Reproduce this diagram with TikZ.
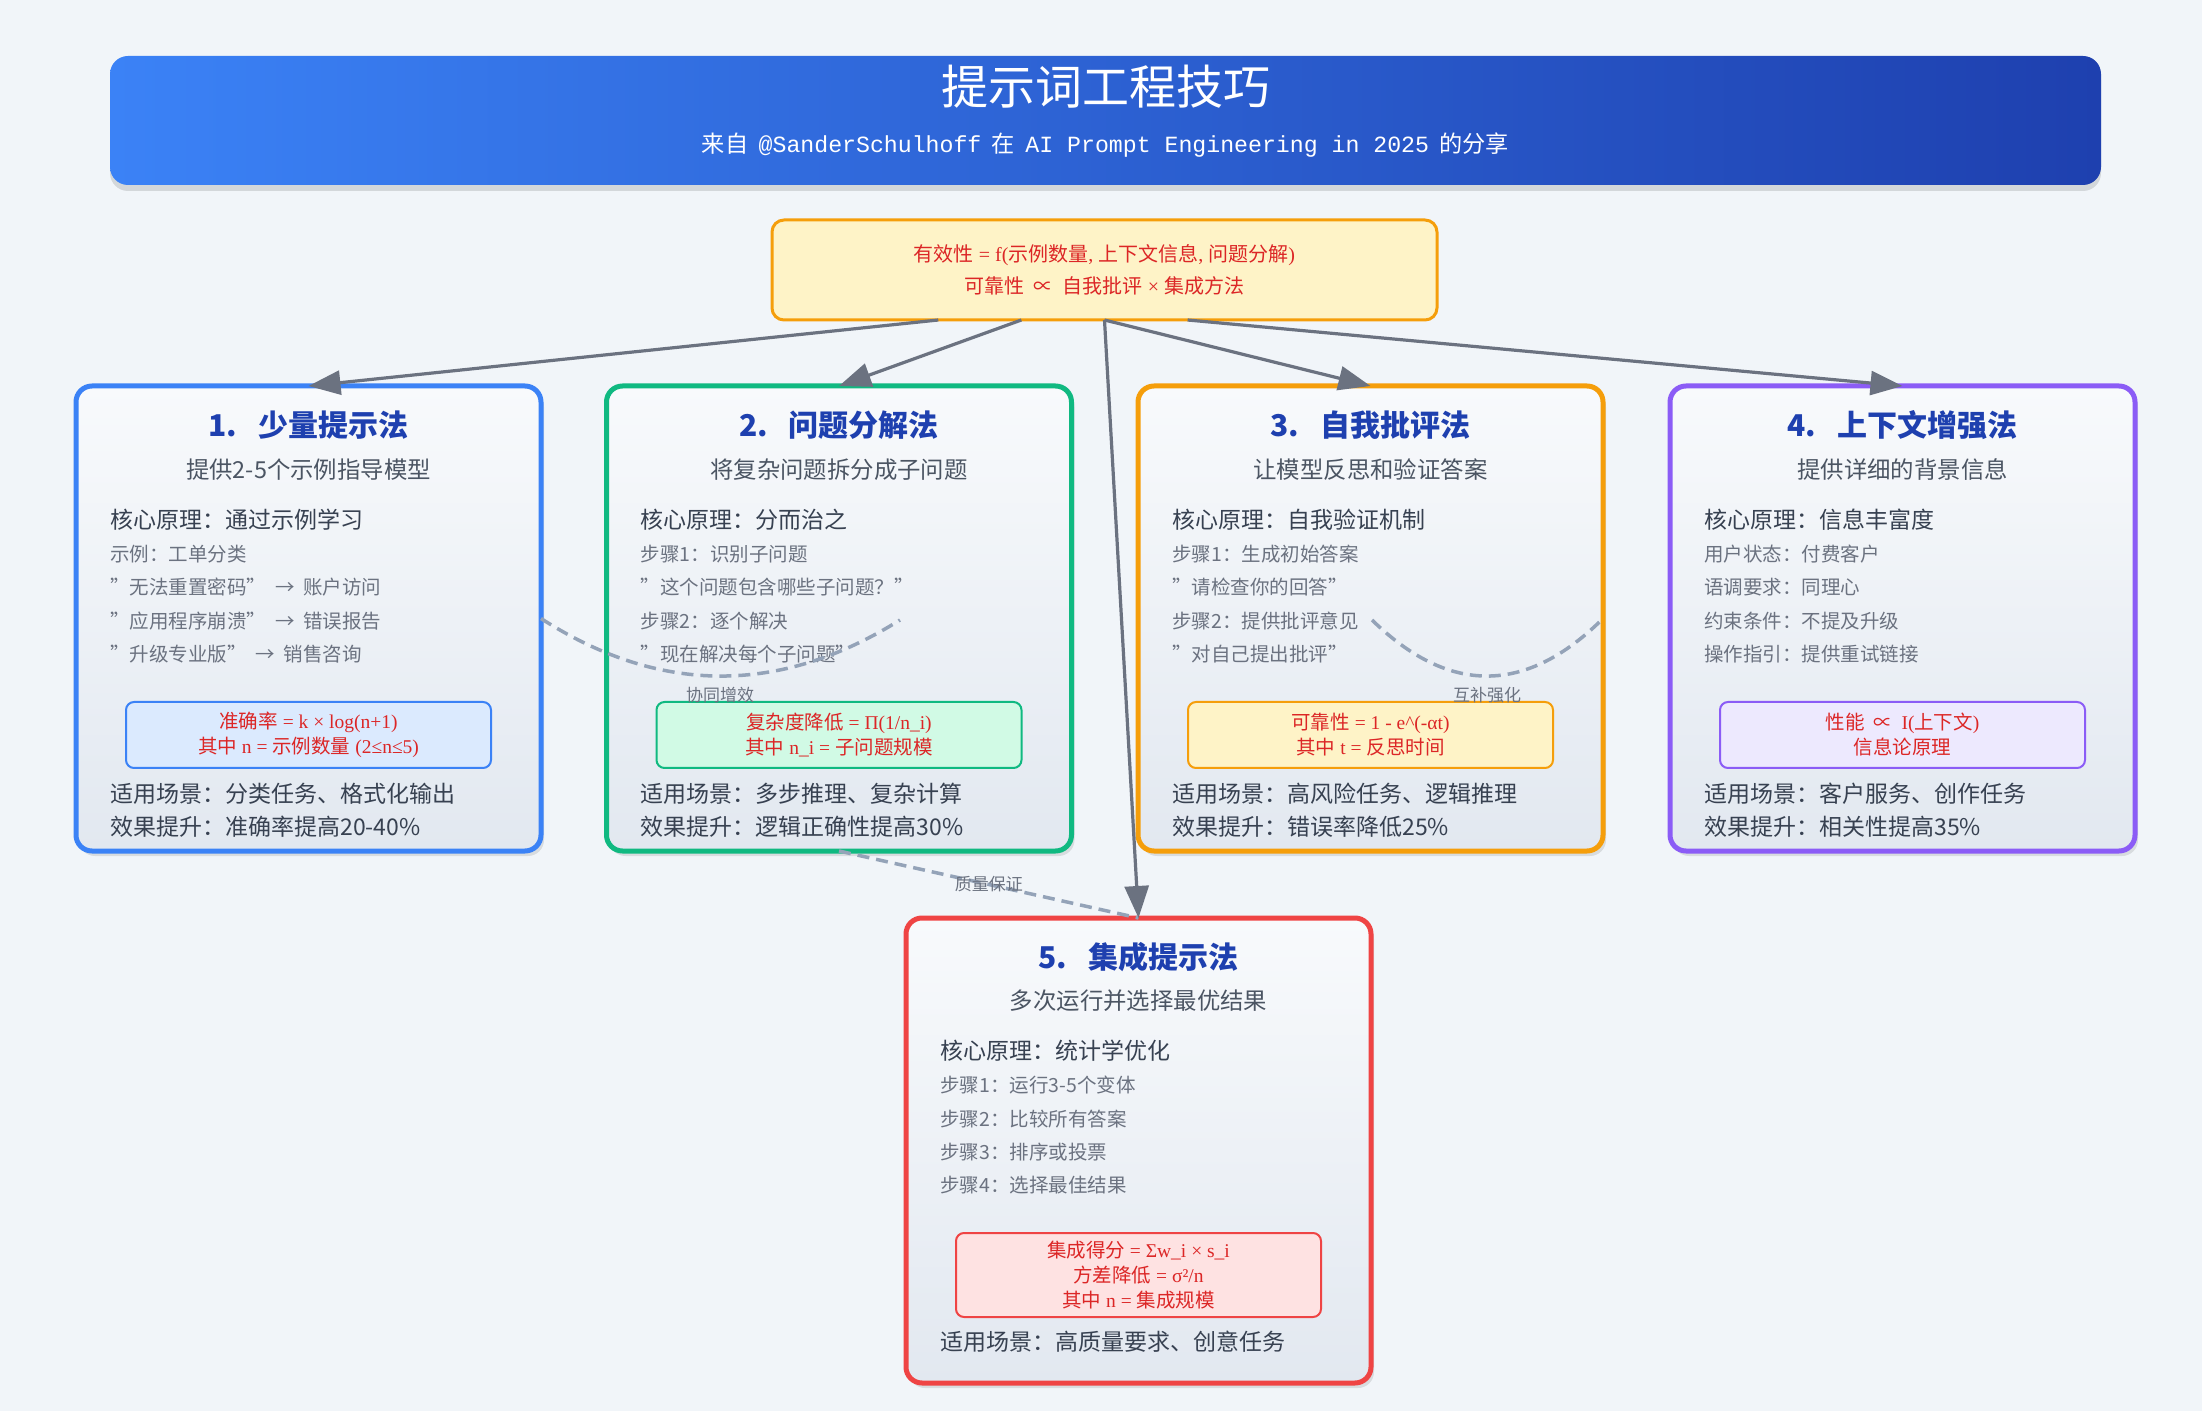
\documentclass[tikz,border=0pt]{standalone}
\usepackage{fontspec}
\setmainfont[WordSpace=2]{Noto Sans CJK SC}
\newfontfamily\fm{Liberation Serif}
\newfontfamily\mono{Liberation Mono}
\newcommand\lat[1]{{\fm #1}}
\usetikzlibrary{arrows.meta,positioning,calc,shadows}
\definecolor{pagebg}{HTML}{F1F5F9}
\definecolor{hdrleft}{HTML}{3B82F6}
\definecolor{hdrright}{HTML}{1E40AF}
\definecolor{cardtop}{HTML}{F8FAFC}
\definecolor{cardbot}{HTML}{E2E8F0}
\definecolor{c1line}{HTML}{3B82F6}
\definecolor{c1fill}{HTML}{DBEAFE}
\definecolor{c2line}{HTML}{10B981}
\definecolor{c2fill}{HTML}{D1FAE5}
\definecolor{c3line}{HTML}{F59E0B}
\definecolor{c3fill}{HTML}{FEF3C7}
\definecolor{c4line}{HTML}{8B5CF6}
\definecolor{c4fill}{HTML}{EDE9FE}
\definecolor{c5line}{HTML}{EF4444}
\definecolor{c5fill}{HTML}{FEE2E2}
\definecolor{titleblue}{HTML}{1E40AF}
\definecolor{subgray}{HTML}{4B5563}
\definecolor{coregray}{HTML}{374151}
\definecolor{itemgray}{HTML}{6B7280}
\definecolor{formred}{HTML}{DC2626}
\definecolor{arrowgray}{HTML}{6B7280}
\definecolor{linkgray}{HTML}{94A3B8}

\begin{document}
\begin{tikzpicture}[
  x=0.5pt, y=-0.5pt,
  header/.style={rectangle, rounded corners=9pt, minimum width=995.5pt,
                 minimum height=64.5pt, left color=hdrleft, right color=hdrright,
                 drop shadow={shadow xshift=0pt, shadow yshift=-3pt, opacity=0.12, fill=black}},
  htitle/.style={text=white, font=\fontsize{23.5}{28}\selectfont},
  hsub/.style={text=white, font=\fontsize{11.6}{14}\selectfont},
  eqbox/.style={rectangle, draw=c3line, line width=1.5pt, rounded corners=6pt,
                fill=c3fill, minimum width=332.5pt, minimum height=50pt, outer sep=0pt,
                align=center, text=formred, font=\fontsize{10}{16}\selectfont},
  card/.style={rectangle, draw=#1, line width=2.5pt, rounded corners=8pt,
               minimum width=232.5pt, minimum height=232.5pt, outer sep=0pt,
               top color=cardtop, bottom color=cardbot,
               drop shadow={shadow xshift=1.5pt, shadow yshift=-2.5pt, opacity=0.1, fill=black}},
  ttl/.style={text=titleblue, font=\fontsize{15}{18}\selectfont\bfseries},
  sub/.style={text=subgray, font=\fontsize{11.7}{14}\selectfont},
  core/.style={anchor=west, inner sep=0pt, text=coregray, font=\fontsize{11.5}{14}\selectfont},
  item/.style={anchor=west, inner sep=0pt, text=itemgray, font=\fontsize{9.75}{12}\selectfont},
  gain/.style={anchor=west, inner sep=0pt, text=coregray, font=\fontsize{11.5}{14}\selectfont},
  fbox/.style 2 args={rectangle, draw=#1, fill=#2, line width=1pt, rounded corners=4pt,
                      minimum width=182.5pt, minimum height=33pt, align=center,
                      text=formred, font=\fontsize{9.75}{12.5}\selectfont},
  flow/.style={-{Triangle[length=16pt, width=12pt]}, line width=1.6pt, draw=arrowgray},
  link/.style={draw=linkgray, line width=1.75pt, dash pattern=on 6pt off 3.5pt},
  lbl/.style={text=itemgray, font=\fontsize{8.5}{10}\selectfont, inner sep=1pt},
]
\useasboundingbox (0,0) rectangle (2202,1411);
\fill[pagebg] (0,0) rectangle (2202,1411);

% Header
\node[header] (hdr) at (1105.5,120.5) {};
\node[htitle] (htl) at (1105.5,87) {提示词工程技巧};
\node[hsub] (hsb) at (1105.5,145) {来自 {\mono @SanderSchulhoff} 在 {\mono AI Prompt Engineering in 2025} 的分享};

% Overall formula
\node[eqbox] (eq) at (1104.5,270) {有效性\lat{ = f(}示例数量\lat{, }上下文信息\lat{, }问题分解\lat{)}\\
  可靠性 ∝ 自我批评\lat{ × }集成方法};

% Cards
\node[card=c1line] (b1) at (308.5,618.5) {};
\node[card=c2line] (b2) at (839,618.5) {};
\node[card=c3line] (b3) at (1370.5,618.5) {};
\node[card=c4line] (b4) at (1902.5,618.5) {};
\node[card=c5line] (b5) at (1138.5,1150.5) {};

% Card 1: few-shot
\node[ttl] (t1) at ($(b1.north)+(0,39)$) {1.\hspace{.7em}少量提示法};
\node[sub] (s1) at ($(b1.north)+(0,84)$) {提供2-5个示例指导模型};
\node[core] (k1) at ($(b1.north west)+(34,134)$) {核心原理：通过示例学习};
\node[item] (i1a) at ($(b1.north west)+(34,168)$) {示例：工单分类};
\node[item] (i1b) at ($(b1.north west)+(34,201.5)$) {"无法重置密码" → 账户访问};
\node[item] (i1c) at ($(b1.north west)+(34,235)$) {"应用程序崩溃" → 错误报告};
\node[item] (i1d) at ($(b1.north west)+(34,268.5)$) {"升级专业版" → 销售咨询};
\node[fbox={c1line}{c1fill}] (f1) at ($(b1.north)+(0,349)$) {准确率\lat{ = k × log(n+1)}\\其中\lat{ n = }示例数量\lat{ (2≤n≤5)}};
\node[gain] (g1a) at ($(b1.north west)+(34,408)$) {适用场景：分类任务、格式化输出};
\node[gain] (g1b) at ($(b1.north west)+(34,441)$) {效果提升：准确率提高20-40\%};

% Card 2: decomposition
\node[ttl] (t2) at ($(b2.north)+(0,39)$) {2.\hspace{.7em}问题分解法};
\node[sub] (s2) at ($(b2.north)+(0,84)$) {将复杂问题拆分成子问题};
\node[core] (k2) at ($(b2.north west)+(34,134)$) {核心原理：分而治之};
\node[item] (i2a) at ($(b2.north west)+(34,168)$) {步骤1：识别子问题};
\node[item] (i2b) at ($(b2.north west)+(34,201.5)$) {"这个问题包含哪些子问题？"};
\node[item] (i2c) at ($(b2.north west)+(34,235)$) {步骤2：逐个解决};
\node[item] (i2d) at ($(b2.north west)+(34,268.5)$) {"现在解决每个子问题"};
\node[fbox={c2line}{c2fill}] (f2) at ($(b2.north)+(0,349)$) {复杂度降低\lat{ = Π(1/n\_i)}\\其中\lat{ n\_i = }子问题规模};
\node[gain] (g2a) at ($(b2.north west)+(34,408)$) {适用场景：多步推理、复杂计算};
\node[gain] (g2b) at ($(b2.north west)+(34,441)$) {效果提升：逻辑正确性提高30\%};

% Card 3: self-criticism
\node[ttl] (t3) at ($(b3.north)+(0,39)$) {3.\hspace{.7em}自我批评法};
\node[sub] (s3) at ($(b3.north)+(0,84)$) {让模型反思和验证答案};
\node[core] (k3) at ($(b3.north west)+(34,134)$) {核心原理：自我验证机制};
\node[item] (i3a) at ($(b3.north west)+(34,168)$) {步骤1：生成初始答案};
\node[item] (i3b) at ($(b3.north west)+(34,201.5)$) {"请检查你的回答"};
\node[item] (i3c) at ($(b3.north west)+(34,235)$) {步骤2：提供批评意见};
\node[item] (i3d) at ($(b3.north west)+(34,268.5)$) {"对自己提出批评"};
\node[fbox={c3line}{c3fill}] (f3) at ($(b3.north)+(0,349)$) {可靠性\lat{ = 1 - e\textasciicircum(-αt)}\\其中\lat{ t = }反思时间};
\node[gain] (g3a) at ($(b3.north west)+(34,408)$) {适用场景：高风险任务、逻辑推理};
\node[gain] (g3b) at ($(b3.north west)+(34,441)$) {效果提升：错误率降低25\%};

% Card 4: context
\node[ttl] (t4) at ($(b4.north)+(0,39)$) {4.\hspace{.7em}上下文增强法};
\node[sub] (s4) at ($(b4.north)+(0,84)$) {提供详细的背景信息};
\node[core] (k4) at ($(b4.north west)+(34,134)$) {核心原理：信息丰富度};
\node[item] (i4a) at ($(b4.north west)+(34,168)$) {用户状态：付费客户};
\node[item] (i4b) at ($(b4.north west)+(34,201.5)$) {语调要求：同理心};
\node[item] (i4c) at ($(b4.north west)+(34,235)$) {约束条件：不提及升级};
\node[item] (i4d) at ($(b4.north west)+(34,268.5)$) {操作指引：提供重试链接};
\node[fbox={c4line}{c4fill}] (f4) at ($(b4.north)+(0,349)$) {性能 ∝ \lat{I(}上下文\lat{)}\\信息论原理};
\node[gain] (g4a) at ($(b4.north west)+(34,408)$) {适用场景：客户服务、创作任务};
\node[gain] (g4b) at ($(b4.north west)+(34,441)$) {效果提升：相关性提高35\%};

% Card 5: ensembling
\node[ttl] (t5) at ($(b5.north)+(0,39)$) {5.\hspace{.7em}集成提示法};
\node[sub] (s5) at ($(b5.north)+(0,83)$) {多次运行并选择最优结果};
\node[core] (k5) at ($(b5.north west)+(34,133)$) {核心原理：统计学优化};
\node[item] (i5a) at ($(b5.north west)+(34,167)$) {步骤1：运行3-5个变体};
\node[item] (i5b) at ($(b5.north west)+(34,201)$) {步骤2：比较所有答案};
\node[item] (i5c) at ($(b5.north west)+(34,234)$) {步骤3：排序或投票};
\node[item] (i5d) at ($(b5.north west)+(34,267)$) {步骤4：选择最佳结果};
\node[fbox={c5line}{c5fill}, minimum height=42pt] (f5) at ($(b5.north)+(0,357)$) {集成得分\lat{ = Σw\_i × s\_i}\\方差降低\lat{ = σ²/n}\\其中\lat{ n = }集成规模};
\node[gain] (g5a) at ($(b5.north west)+(34,424)$) {适用场景：高质量要求、创意任务};

% Synergy links
\coordinate (synEnd) at (900,620);
\draw[link] (b1.east) .. controls (660,695) and (780,695) .. (synEnd);
\node[lbl] (l1) at (720,695) {协同增效};
\coordinate (cmpStart) at (1372,620);
\draw[link] (cmpStart) .. controls (1449,695) and (1526,695) .. (b3.east);
\node[lbl] (l2) at (1487,695) {互补强化};
\draw[link] (b2.south) -- (b5.north) node[lbl, midway] (l3) {质量保证};

% Arrows
\draw[flow] ($(eq.south west)!0.25!(eq.south east)$) -- (b1.north);
\draw[flow] ($(eq.south west)!0.375!(eq.south east)$) -- (b2.north);
\draw[flow] (eq.south) -- (b3.north);
\draw[flow] ($(eq.south west)!0.625!(eq.south east)$) -- (b4.north);
\draw[flow] (eq.south) -- (b5.north);
\end{tikzpicture}
\end{document}
